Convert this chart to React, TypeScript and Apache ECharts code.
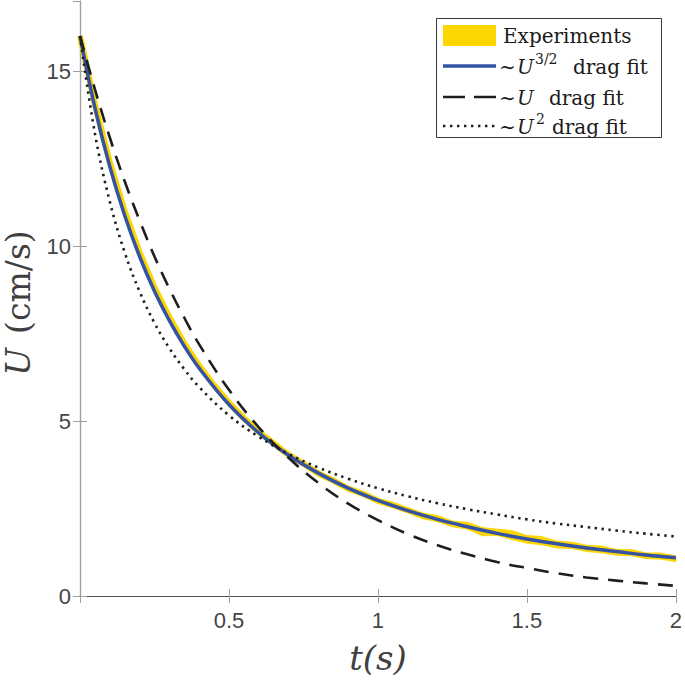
import React, { useEffect, useRef } from "react";
import * as echarts from "echarts";

// Time grid (s)
const fitT = [0, 0.05, 0.1, 0.15, 0.2, 0.25, 0.3, 0.35, 0.4, 0.5, 0.6, 0.7, 0.8, 0.9, 1.0, 1.1, 1.2, 1.3, 1.4, 1.5, 1.6, 1.7, 1.8, 1.9, 2.0];
// ~U^{3/2} drag fit (cm/s)
const fit32 = [16, 13.95, 12.27, 10.87, 9.7, 8.71, 7.87, 7.14, 6.51, 5.47, 4.66, 4.02, 3.51, 3.08, 2.73, 2.44, 2.19, 1.98, 1.79, 1.63, 1.49, 1.37, 1.27, 1.17, 1.09];
// ~U drag fit
const fit1 = [16, 14.48, 13.1, 11.85, 10.73, 9.7, 8.78, 7.95, 7.19, 5.89, 4.82, 3.95, 3.23, 2.64, 2.17, 1.77, 1.45, 1.19, 0.97, 0.8, 0.65, 0.53, 0.44, 0.36, 0.29];
// ~U^2 drag fit
const fit2 = [16, 13.22, 11.27, 9.82, 8.7, 7.8, 7.08, 6.48, 5.97, 5.16, 4.55, 4.06, 3.67, 3.35, 3.08, 2.85, 2.65, 2.48, 2.33, 2.19, 2.07, 1.97, 1.87, 1.78, 1.7];

// Experiments
const expT = [0, 0.05, 0.1, 0.15, 0.2, 0.25, 0.3, 0.35, 0.4, 0.45, 0.5, 0.55, 0.6, 0.65, 0.7, 0.75, 0.8, 0.85, 0.9, 0.95, 1.0, 1.05, 1.1, 1.15, 1.2, 1.25, 1.3, 1.35, 1.4, 1.45, 1.5, 1.55, 1.6, 1.65, 1.7, 1.75, 1.8, 1.85, 1.9, 1.95, 2.0];
const expU = [16.0, 14.05, 12.4, 11.0, 9.82, 8.82, 7.97, 7.22, 6.58, 6.02, 5.52, 5.08, 4.69, 4.36, 4.03, 3.78, 3.5, 3.3, 3.07, 2.92, 2.72, 2.6, 2.45, 2.29, 2.21, 2.06, 2.01, 1.84, 1.82, 1.74, 1.62, 1.58, 1.47, 1.45, 1.36, 1.33, 1.25, 1.24, 1.15, 1.14, 1.06];
const expSpread = [0, 0, 0, 0, 0, 0, 0, 0, 0, 0, 0, 0, 0, 0.03, 0.04, 0.05, 0.05, 0.06, 0.05, 0.07, 0.06, 0.08, 0.07, 0.08, 0.09, 0.08, 0.1, 0.12, 0.09, 0.13, 0.11, 0.12, 0.1, 0.09, 0.09, 0.1, 0.08, 0.09, 0.08, 0.09, 0.08];

const xTicks = [0.5, 1, 1.5, 2];
const yTicks = [0, 5, 10, 15];

// legend labels: [prefix, variable, superscript, suffix]
const legendLabels: [string, string, string, string][] = [
  ["Experiments", "", "", ""],
  ["∼", "U", "3/2", "drag fit"],
  ["∼", "U", "", "drag fit"],
  ["∼", "U", "2", "drag fit"],
];

const YELLOW = "#FDD500";
const BLUE = "#3253A6";
const BLACK = "#1e1e1e";
const SERIF = "DejaVu Serif";

export default function App() {
  const ref = useRef<HTMLDivElement>(null);
  useEffect(() => {
    if (!ref.current) return;
    const chart = echarts.init(ref.current, null, { renderer: "svg" });
    const pairs = (ts: number[], vs: number[]) => ts.map((t, i) => [t, vs[i]]);
    const bandData = expT.map((t, i) => [t, expU[i] - expSpread[i], expU[i] + expSpread[i]]);

    const ctx = document.createElement("canvas").getContext("2d")!;
    const measure = (s: string, size: number, italic = false) => {
      ctx.font = `${italic ? "italic " : ""}${size}px "${SERIF}"`;
      return ctx.measureText(s).width;
    };

    const tickFont = { fontFamily: "Liberation Sans, Arial, sans-serif", fontSize: 22, color: "#454545" };
    const lx0 = 443, lx1 = 496;
    const rows = [35, 66, 97, 126];
    // layout of the legend text pieces: [prefix x, variable x, superscript x, suffix x]
    const pieceX = [
      [503, 0, 0, 0],
      [499, 517, 535, 573],
      [499, 517, 0, 549],
      [499, 517, 536, 552],
    ];

    const legendGraphics: any[] = [
      { type: "rect", shape: { x: 436.5, y: 18.5, width: 225, height: 119 }, style: { fill: "#fff", stroke: "#3a3a3a", lineWidth: 1 }, z: 10 },
      { type: "rect", shape: { x: lx0, y: 25, width: lx1 - lx0, height: 21 }, style: { fill: YELLOW }, z: 11 },
      { type: "line", shape: { x1: lx0, y1: rows[1], x2: lx1, y2: rows[1] }, style: { stroke: BLUE, lineWidth: 3.5 }, z: 11 },
      { type: "line", shape: { x1: lx0, y1: rows[2], x2: lx1, y2: rows[2] }, style: { stroke: BLACK, lineWidth: 2.6, lineDash: [22, 9] }, z: 11 },
      { type: "line", shape: { x1: lx0, y1: rows[3], x2: lx1, y2: rows[3] }, style: { stroke: BLACK, lineWidth: 2.4, lineDash: [2.4, 4.6] }, z: 11 },
    ];
    const serifStyle = (size: number, italic: boolean) => ({
      fontFamily: SERIF, fontSize: size, fontStyle: italic ? "italic" : "normal",
    });
    legendLabels.forEach((parts, r) => {
      const y = rows[r] + 1;
      const specs: [number, boolean, number][] = [[20, false, 0], [20, true, 0], [14, false, -8], [20, false, 0]];
      parts.forEach((s, k) => {
        if (!s) return;
        const [size, italic, dy] = specs[k];
        legendGraphics.push({
          type: "text", x: pieceX[r][k], y: y + dy, z: 11,
          style: { text: s, ...serifStyle(size, italic), fill: "#1a1a1a", verticalAlign: "middle", align: "left" },
        });
      });
    });

    // y-axis title: "U (cm/s)" rotated
    const yTitleSize = 33;
    const wU = measure("U", yTitleSize, true);
    const gap = 14;
    const wRest = measure("(cm/s)", yTitleSize, false);
    const total = wU + gap + wRest;
    const yTitle = {
      type: "group", x: 18, y: 303, rotation: Math.PI / 2, z: 5,
      children: [
        { type: "text", x: -total / 2, y: 0, style: { text: "U", ...serifStyle(yTitleSize, true), fill: "#404040", verticalAlign: "middle", align: "left" } },
        { type: "text", x: -total / 2 + wU + gap, y: 0, style: { text: "(cm/s)", ...serifStyle(yTitleSize, false), fill: "#404040", verticalAlign: "middle", align: "left" } },
      ],
    };

    chart.setOption({
      animation: false,
      grid: { left: 80, right: 6, top: 1, bottom: 83, containLabel: false },
      xAxis: [
        {
          type: "value", min: 0, max: 2, interval: 0.5, position: "bottom",
          axisLine: { lineStyle: { color: "#a0a0a0", width: 1.2 } },
          axisTick: { inside: true, length: 7, lineStyle: { color: "#a0a0a0" } },
          axisLabel: { ...tickFont, margin: 13, showMinLabel: false, formatter: (v: number) => (xTicks.includes(v) ? String(v) : "") },
          splitLine: { show: false },
          name: "t(s)",
          nameLocation: "middle", nameGap: 45,
          nameTextStyle: { fontFamily: SERIF, fontStyle: "italic", fontSize: 34, color: "#404040" },
        },
        {
          type: "value", min: 0, max: 2, interval: 0.5, position: "top",
          axisLine: { show: true, lineStyle: { color: "#505050", width: 1.2 } },
          axisTick: { inside: true, length: 7, lineStyle: { color: "#a0a0a0" } },
          axisLabel: { show: false }, splitLine: { show: false },
        },
      ],
      yAxis: [
        {
          type: "value", min: 0, max: 17, interval: 5, position: "left",
          axisLine: { show: true, lineStyle: { color: "#a0a0a0", width: 1.2 } },
          axisTick: { show: true, inside: true, length: 7, lineStyle: { color: "#a0a0a0" } },
          axisLabel: { ...tickFont, margin: 9, showMaxLabel: false, formatter: (v: number) => (yTicks.includes(v) ? String(v) : "") },
          splitLine: { show: false },
        },
        {
          type: "value", min: 0, max: 17, interval: 5, position: "right",
          axisLine: { show: true, lineStyle: { color: "#a0a0a0", width: 1.2 } },
          axisTick: { show: true, inside: true, length: 7, lineStyle: { color: "#a0a0a0" } },
          axisLabel: { show: false }, splitLine: { show: false },
        },
      ],
      series: [
        {
          name: "Experiments band", type: "custom", data: bandData, z: 1, silent: true,
          renderItem: (params: any, api: any) => {
            const i = params.dataIndex;
            if (i >= bandData.length - 1) return null;
            const a = bandData[i], b = bandData[i + 1];
            const pts = [
              api.coord([a[0], a[1]]), api.coord([b[0], b[1]]),
              api.coord([b[0], b[2]]), api.coord([a[0], a[2]]),
            ];
            return { type: "polygon", shape: { points: pts }, style: { fill: YELLOW, stroke: YELLOW, lineWidth: 0.8 } };
          },
          encode: { x: 0, y: [1, 2] },
        },
        {
          name: "Experiments", type: "line", data: pairs(expT, expU),
          showSymbol: false, lineStyle: { width: 6, color: YELLOW, join: "round" }, z: 2, silent: true,
        },
        {
          name: "~U^{3/2} drag fit", type: "line", data: pairs(fitT, fit32), smooth: 0.4,
          showSymbol: false, lineStyle: { width: 3.5, color: BLUE }, z: 3,
        },
        {
          name: "~U drag fit", type: "line", data: pairs(fitT, fit1), smooth: 0.4,
          showSymbol: false, lineStyle: { width: 2.6, color: BLACK, type: [15, 10], cap: "butt" }, z: 4,
        },
        {
          name: "~U^2 drag fit", type: "line", data: pairs(fitT, fit2), smooth: 0.4,
          showSymbol: false, lineStyle: { width: 2.6, color: BLACK, type: [2.4, 4.6], cap: "butt" }, z: 5,
        },
      ],
      graphic: [...legendGraphics, yTitle],
    });
    return () => chart.dispose();
  }, []);
  return <div ref={ref} style={{ position: "absolute", left: 0, top: 0, width: 685, height: 680 }} />;
}
